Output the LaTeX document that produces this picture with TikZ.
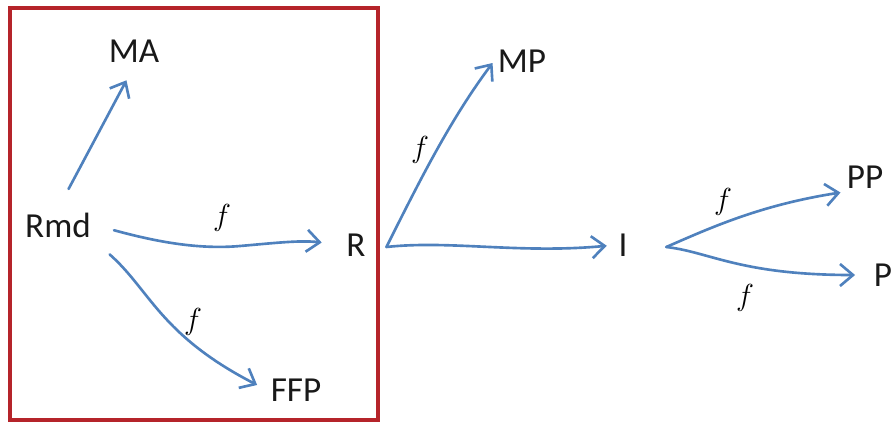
\documentclass[tikz,border=0pt]{standalone}
\usepackage{fontspec}
\setmainfont{Carlito}
\usetikzlibrary{arrows.meta}

\definecolor{flowblue}{HTML}{4F81BD}
\definecolor{boxred}{HTML}{B5242A}

\begin{document}
\begin{tikzpicture}[
    x=0.2mm, y=-0.2mm,
    font=\fontsize{20}{24}\selectfont,
    term/.style={inner sep=2pt, text=black!90},
    flab/.style={inner sep=0pt, font=\fontsize{17}{20}\selectfont},
    flow/.style={draw=flowblue, line width=1.5pt, line cap=round,
        -{Straight Barb[length=2.6mm, width=4.4mm, line width=1.5pt]}},
]
\useasboundingbox (0,0) rectangle (892,429);

% red box round the first group
\draw[boxred, line width=2.8pt] (10,8) rectangle (378,420);

\node[term] (ma)  at (134,51)  {MA};
\node[term] (rmd) at (58,225)  {Rmd};
\node[term] (r)   at (356,245) {R};
\node[term] (ffp) at (296,390) {FFP};
\node[term] (mp)  at (522,61)  {MP};
\node[term] (i)   at (623,245) {I};
\node[term] (pp)  at (865,177) {PP};
\node[term] (p)   at (883,275) {P};

\node[flab] (f1) at (222,218) {$f$};
\node[flab] (f2) at (193,322) {$f$};
\node[flab] (f3) at (420,150) {$f$};
\node[flab] (f4) at (723,202) {$f$};
\node[flab] (f5) at (745,298) {$f$};

\draw[flow, shorten <=0.45cm, shorten >=0.32cm] (rmd.north) -- (ma.south);
\draw[flow, shorten <=0.4cm, shorten >=0.42cm]
    (rmd.east) .. controls (150,240) and (195,250) .. (240,246)
    .. controls (275,243) and (300,240) .. (r.west);
\draw[flow, shorten <=0.4cm, shorten >=0.22cm]
    (rmd.south east) .. controls (150,290) and (160,335) .. (ffp.west);
% R forks to MP and I
\draw[flow, shorten >=0.05cm]
    ([xshift=0.34cm, yshift=-0.04cm]r.east) .. controls (420,180) and (450,120) .. (mp.west);
\draw[flow, shorten >=0.16cm]
    ([xshift=0.34cm, yshift=-0.04cm]r.east) .. controls (450,240) and (520,254) .. (i.west);
% I forks to PP and P
\draw[flow, shorten >=0.05cm]
    ([xshift=0.7cm, yshift=-0.04cm]i.east) .. controls (710,228) and (760,205) .. (pp.south west);
\draw[flow, shorten >=0.3cm]
    ([xshift=0.7cm, yshift=-0.04cm]i.east) .. controls (710,252) and (740,275) .. (p.west);

\end{tikzpicture}
\end{document}
